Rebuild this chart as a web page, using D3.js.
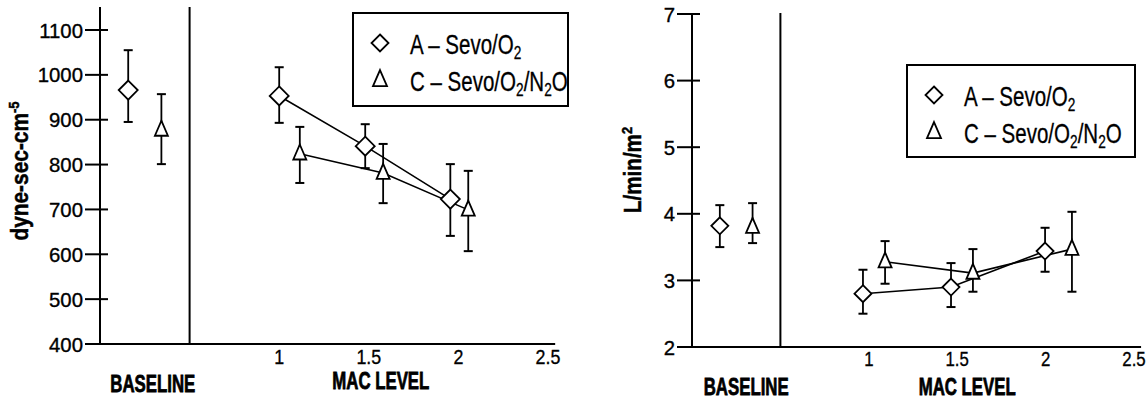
<!DOCTYPE html>
<html>
<head>
<meta charset="utf-8">
<script src="https://cdn.jsdelivr.net/npm/d3@7"></script>
<style>
  body { margin: 0; background: #fff; }
  svg { display: block; }
  text { font-family: "Liberation Sans", Arial, sans-serif; fill: #000; }
  .tick-label { font-size: 21px; stroke: #000; stroke-width: 0.35px; }
  .legend-text { font-size: 27px; stroke: #000; stroke-width: 0.3px; }
  .axis-title { font-weight: bold; font-size: 24px; stroke: #000; stroke-width: 0.8px; }
  .y-title { font-weight: bold; font-size: 24px; stroke: #000; stroke-width: 0.5px; }
</style>
</head>
<body>
<svg id="chart" width="1147" height="401"></svg>
<script>
// groups and labels
var groups = ["A", "C"];
var legendLabels = [
  [{t: "A – Sevo/O"}, {t: "2", sub: true}],
  [{t: "C – Sevo/O"}, {t: "2", sub: true}, {t: "/N"}, {t: "2", sub: true}, {t: "O"}]
];
var macTicks = [1, 1.5, 2, 2.5];

// left panel: resistance (dyne-sec-cm-5)
var svrTicks = [400, 500, 600, 700, 800, 900, 1000, 1100];
var svrBaseline = [
  {g: "A", v: 966, hi: 1055, lo: 895},
  {g: "C", v: 877, hi: 957, lo: 801}
];
var svrA = [
  {mac: 1.0, v: 953, hi: 1017, lo: 893},
  {mac: 1.48, v: 841, hi: 890, lo: 792},
  {mac: 1.955, v: 723, hi: 801, lo: 641}
];
var svrC = [
  {mac: 1.115, v: 824, hi: 884, lo: 759},
  {mac: 1.58, v: 781, hi: 846, lo: 714},
  {mac: 2.055, v: 699, hi: 786, lo: 607}
];

// right panel: index (L/min/m2)
var ciTicks = [2, 3, 4, 5, 6, 7];
var ciBaseline = [
  {g: "A", v: 3.82, hi: 4.13, lo: 3.5},
  {g: "C", v: 3.8, hi: 4.16, lo: 3.56}
];
var ciA = [
  {mac: 0.967, v: 2.8, hi: 3.16, lo: 2.5},
  {mac: 1.465, v: 2.9, hi: 3.26, lo: 2.6},
  {mac: 1.997, v: 3.44, hi: 3.79, lo: 3.13}
];
var ciC = [
  {mac: 1.092, v: 3.28, hi: 3.59, lo: 2.95},
  {mac: 1.589, v: 3.11, hi: 3.47, lo: 2.83},
  {mac: 2.149, v: 3.47, hi: 4.03, lo: 2.83}
];

var svg = d3.select("#chart");

function diamondPath(r) {
  return "M0," + (-r) + "L" + r + ",0L0," + r + "L" + (-r) + ",0Z";
}
function trianglePath(w, h) {
  return "M0," + (-h * 0.62) + "L" + (w / 2) + "," + (h * 0.38) + "L" + (-w / 2) + "," + (h * 0.38) + "Z";
}

// text squeezed horizontally to mimic the condensed typeface
function squeezed(parent, x, y, cls, anchor, sx, rot) {
  var tr = "translate(" + x + "," + y + ")" + (rot ? " rotate(" + rot + ")" : "") + " scale(" + sx + ",1)";
  return parent.append("text").attr("class", cls).attr("text-anchor", anchor).attr("transform", tr);
}

function addText(sel, parts, subSize) {
  var prev = 0;
  parts.forEach(function(p) {
    var want = p.sub ? 5 : (p.sup ? -9 : 0);
    var ts = sel.append("tspan").text(p.t).attr("dy", want - prev);
    if (p.sub || p.sup) ts.attr("font-size", subSize);
    prev = want;
  });
}

function panel(cfg) {
  var g = svg.append("g");
  var x = d3.scaleLinear().domain([0, 2.5]).range(cfg.xRange);
  var y = d3.scaleLinear().domain(cfg.yDomain).range(cfg.yRange);
  var xb = d3.scalePoint().domain(groups).range([x(0), x(0.5)]).padding(0.85);

  // axes
  g.append("line").attr("x1", x(0)).attr("x2", x(0)).attr("y1", y(cfg.yDomain[0])).attr("y2", cfg.yTop)
    .attr("stroke", "#000").attr("stroke-width", 2);
  g.append("line").attr("x1", x(0.5)).attr("x2", x(0.5)).attr("y1", y(cfg.yDomain[0])).attr("y2", cfg.yTop)
    .attr("stroke", "#000").attr("stroke-width", 2);
  g.append("line").attr("x1", x(0)).attr("x2", x(2.54)).attr("y1", y(cfg.yDomain[0])).attr("y2", y(cfg.yDomain[0]))
    .attr("stroke", "#000").attr("stroke-width", 2);

  g.selectAll(".ytick").data(cfg.yTicks).enter().append("line")
    .attr("x1", x(0) - 15).attr("x2", x(0) + 8)
    .attr("y1", function(d) { return y(d); }).attr("y2", function(d) { return y(d); })
    .attr("stroke", "#000").attr("stroke-width", 2);
  cfg.yTicks.forEach(function(d) {
    squeezed(g, x(0) - 17, y(d) + 7.5, "tick-label", "end", 0.97, 0).text(d);
  });
  macTicks.forEach(function(d) {
    squeezed(g, x(d), cfg.xLabY, "tick-label", "middle", cfg.xLabSx, 0).text(d);
  });

  squeezed(g, (x(0) + x(0.5)) / 2 + cfg.baseDx, cfg.baseY, "axis-title", "middle", 0.7, 0).text("BASELINE");
  squeezed(g, x(1.5) + cfg.macDx, cfg.macY, "axis-title", "middle", 0.7, 0).text("MAC LEVEL");

  var yt = squeezed(g, cfg.yTitleX, cfg.yTitleY, "y-title", "middle", cfg.yTitleSx, -90);
  addText(yt, cfg.yTitle, 15);

  // connecting lines
  var line = d3.line().x(function(d) { return x(d.mac); }).y(function(d) { return y(d.v); });
  [cfg.a, cfg.c].forEach(function(s) {
    g.append("path").attr("d", line(s)).attr("fill", "none").attr("stroke", "#000").attr("stroke-width", 1.6);
  });

  // error bars
  function errBars(data, xf) {
    var eb = g.append("g");
    eb.selectAll("line.v").data(data).enter().append("line")
      .attr("x1", xf).attr("x2", xf)
      .attr("y1", function(d) { return y(d.hi); }).attr("y2", function(d) { return y(d.lo); })
      .attr("stroke", "#000").attr("stroke-width", 1.8);
    ["hi", "lo"].forEach(function(k) {
      eb.selectAll("line." + k).data(data).enter().append("line")
        .attr("x1", function(d) { return xf(d) - 4.5; }).attr("x2", function(d) { return xf(d) + 4.5; })
        .attr("y1", function(d) { return y(d[k]); }).attr("y2", function(d) { return y(d[k]); })
        .attr("stroke", "#000").attr("stroke-width", 2);
    });
  }
  var xMac = function(d) { return x(d.mac); };
  var xBase = function(d) { return xb(d.g); };
  errBars(cfg.a, xMac);
  errBars(cfg.c, xMac);
  errBars(cfg.base, xBase);

  function markers(data, xf, shape) {
    g.selectAll(null).data(data).enter().append("path")
      .attr("d", shape)
      .attr("transform", function(d) { return "translate(" + xf(d) + "," + y(d.v) + ")"; })
      .attr("fill", "#fff").attr("stroke", "#000").attr("stroke-width", 1.8);
  }
  var dia = diamondPath(cfg.dr);
  var tri = trianglePath(13, 15);
  markers(cfg.a, xMac, dia);
  markers(cfg.c, xMac, tri);
  markers(cfg.base.filter(function(d) { return d.g === "A"; }), xBase, dia);
  markers(cfg.base.filter(function(d) { return d.g === "C"; }), xBase, tri);

  // legend
  var lg = g.append("g");
  lg.append("rect").attr("x", cfg.legend.x).attr("y", cfg.legend.y).attr("width", cfg.legend.w).attr("height", cfg.legend.h)
    .attr("fill", "#fff").attr("stroke", "#000").attr("stroke-width", 2);
  var shapes = [diamondPath(8.5), trianglePath(14, 16)];
  groups.forEach(function(k, i) {
    var cy = cfg.legend.y + 30 + i * 37;
    lg.append("path").attr("d", shapes[i]).attr("transform", "translate(" + (cfg.legend.x + 27) + "," + cy + ")")
      .attr("fill", "#fff").attr("stroke", "#000").attr("stroke-width", 1.8);
    var t = squeezed(lg, cfg.legend.x + 57, cy + 11, "legend-text", "start", 0.76, 0);
    addText(t, legendLabels[i], 18);
  });
}

panel({
  xRange: [100, 548], yDomain: [400, 1100], yRange: [344, 30], yTop: 7,
  yTicks: svrTicks, xLabY: 364, xLabSx: 0.85, baseY: 392, baseDx: 8, macY: 389, macDx: 12,
  yTitle: [{t: "dyne-sec-cm"}, {t: "-5", sup: true}], yTitleX: 28, yTitleY: 171, yTitleSx: 0.87,
  a: svrA, c: svrC, base: svrBaseline, dr: 9.5,
  legend: {x: 353, y: 13, w: 215, h: 93}
});

panel({
  xRange: [692, 1134], yDomain: [2, 7], yRange: [347, 14], yTop: 13,
  yTicks: ciTicks, xLabY: 366, xLabSx: 0.8, baseY: 395, baseDx: 10, macY: 395, macDx: 10,
  yTitle: [{t: "L/min/m"}, {t: "2", sup: true}], yTitleX: 641, yTitleY: 170, yTitleSx: 0.86,
  a: ciA, c: ciC, base: ciBaseline, dr: 8.5,
  legend: {x: 907, y: 65, w: 228, h: 92}
});
</script>
</body>
</html>
